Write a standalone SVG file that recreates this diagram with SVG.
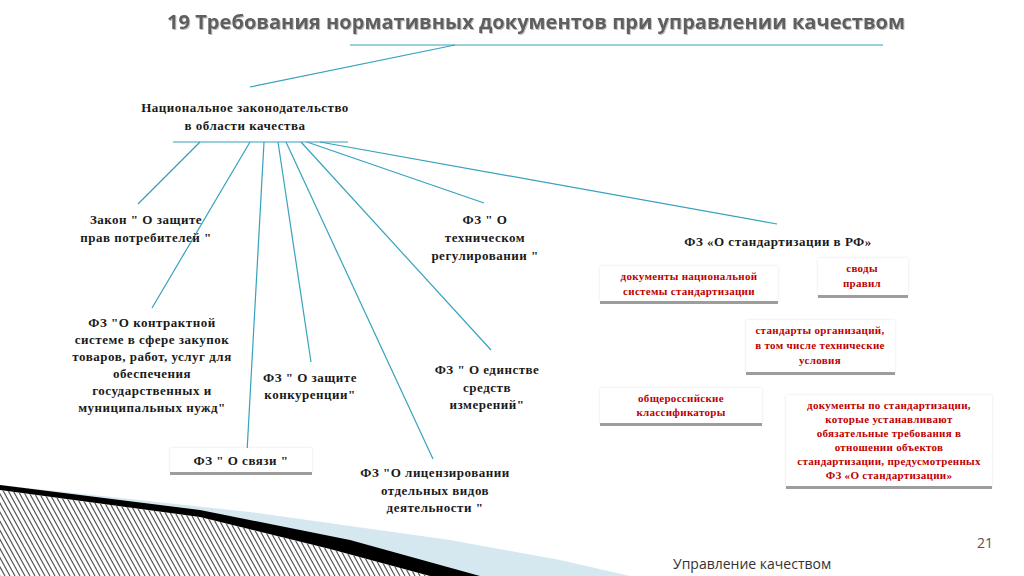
<svg xmlns="http://www.w3.org/2000/svg" width="1024" height="576" viewBox="0 0 1024 576">
<defs>
<clipPath id="hclip"><polygon points="0,490 200,517 330,549 430,576 0,576"/></clipPath>
<filter id="sh" x="-5%" y="-10%" width="110%" height="130%">
<feDropShadow dx="0" dy="0" stdDeviation="1.2" flood-color="#000" flood-opacity="0.12"/>
</filter>
<filter id="tsh" x="-2%" y="-20%" width="104%" height="150%">
<feDropShadow dx="1" dy="1" stdDeviation="0.6" flood-color="#000" flood-opacity="0.25"/>
</filter>
</defs>
<style>
.t{font-family:"Liberation Serif","Times New Roman",serif;font-weight:bold;font-size:13px;letter-spacing:0.5px;fill:#1a1a1a;text-anchor:middle}
.r{font-family:"Liberation Serif","Times New Roman",serif;font-weight:bold;font-size:11px;letter-spacing:0.3px;fill:#c00000;text-anchor:middle}
.c{stroke:#35a2bd;stroke-width:1.2;fill:none}
.box{fill:#ffffff;filter:url(#sh)}
.bar{fill:#9d9d9d}
.h{stroke:#555555;stroke-width:1.2;fill:none}
</style>
<rect width="1024" height="576" fill="#ffffff"/>

<!-- bottom decoration -->
<polygon points="0,485 250,512 450,540 560,560 630,576 0,576" fill="#d6e8ef"/>
<polygon points="0,485 200,510 350,540 480,576 0,576" fill="#000000"/>
<g clip-path="url(#hclip)">
<rect x="0" y="480" width="440" height="96" fill="#ffffff"/>
<path class="h" d="M-55,485l50,91M-50,485l50,91M-45,485l50,91M-40,485l50,91M-35,485l50,91M-30,485l50,91M-25,485l50,91M-20,485l50,91M-15,485l50,91M-10,485l50,91M-5,485l50,91M0,485l50,91M5,485l50,91M10,485l50,91M15,485l50,91M20,485l50,91M25,485l50,91M30,485l50,91M35,485l50,91M40,485l50,91M45,485l50,91M50,485l50,91M55,485l50,91M60,485l50,91M65,485l50,91M70,485l50,91M75,485l50,91M80,485l50,91M85,485l50,91M90,485l50,91M95,485l50,91M100,485l50,91M105,485l50,91M110,485l50,91M115,485l50,91M120,485l50,91M125,485l50,91M130,485l50,91M135,485l50,91M140,485l50,91M145,485l50,91M150,485l50,91M155,485l50,91M160,485l50,91M165,485l50,91M170,485l50,91M175,485l50,91M180,485l50,91M185,485l50,91M190,485l50,91M195,485l50,91M200,485l50,91M205,485l50,91M210,485l50,91M215,485l50,91M220,485l50,91M225,485l50,91M230,485l50,91M235,485l50,91M240,485l50,91M245,485l50,91M250,485l50,91M255,485l50,91M260,485l50,91M265,485l50,91M270,485l50,91M275,485l50,91M280,485l50,91M285,485l50,91M290,485l50,91M295,485l50,91M300,485l50,91M305,485l50,91M310,485l50,91M315,485l50,91M320,485l50,91M325,485l50,91M330,485l50,91M335,485l50,91M340,485l50,91M345,485l50,91M350,485l50,91M355,485l50,91M360,485l50,91M365,485l50,91M370,485l50,91M375,485l50,91M380,485l50,91M385,485l50,91M390,485l50,91M395,485l50,91M400,485l50,91"/>
</g>

<!-- title -->
<text x="536" y="29" font-family="Open Sans,DejaVu Sans,sans-serif" font-weight="bold" font-size="19" fill="#5e5e5e" text-anchor="middle" textLength="738" lengthAdjust="spacingAndGlyphs" filter="url(#tsh)">19 Требования нормативных документов при управлении качеством</text>

<g id="connectors">
<line class="c" x1="350" y1="45" x2="883" y2="45"/>
<line class="c" x1="455" y1="45" x2="250" y2="87"/>
<line class="c" x1="173" y1="142" x2="348" y2="142"/>
<line class="c" x1="200" y1="142" x2="138" y2="204"/>
<line class="c" x1="250" y1="142" x2="152" y2="308"/>
<line class="c" x1="264" y1="142" x2="247" y2="452"/>
<line class="c" x1="278" y1="142" x2="311" y2="362"/>
<line class="c" x1="286" y1="142" x2="433" y2="459"/>
<line class="c" x1="301" y1="142" x2="491" y2="350"/>
<line class="c" x1="307" y1="142" x2="484" y2="203"/>
<line class="c" x1="320" y1="142" x2="777" y2="224"/>
</g>

<g id="n-root">
<text class="t" x="245" y="112">Национальное законодательство</text>
<text class="t" x="245" y="130">в области качества</text>
</g>

<g id="n-zakon">
<text class="t" x="146" y="224">Закон " О защите</text>
<text class="t" x="146" y="242">прав потребителей "</text>
</g>

<g id="n-tech">
<text class="t" x="485" y="224">ФЗ " О</text>
<text class="t" x="485" y="242">техническом</text>
<text class="t" x="485" y="260">регулировании "</text>
</g>

<g id="n-std">
<text class="t" x="778" y="246">ФЗ «О стандартизации в РФ»</text>
</g>

<g id="n-contract">
<text class="t" x="152" y="327">ФЗ "О контрактной</text>
<text class="t" x="152" y="344">системе в сфере закупок</text>
<text class="t" x="152" y="361">товаров, работ, услуг для</text>
<text class="t" x="152" y="378">обеспечения</text>
<text class="t" x="152" y="395">государственных и</text>
<text class="t" x="152" y="412">муниципальных нужд"</text>
</g>

<g id="n-konk">
<text class="t" x="310" y="382">ФЗ " О защите</text>
<text class="t" x="310" y="399">конкуренции"</text>
</g>

<g id="n-edin">
<text class="t" x="487" y="374">ФЗ " О единстве</text>
<text class="t" x="487" y="392">средств</text>
<text class="t" x="487" y="409">измерений"</text>
</g>

<g id="n-svyaz">
<rect class="box" x="170" y="448" width="142" height="25"/>
<rect class="bar" x="170" y="472" width="142" height="3"/>
<text class="t" x="241" y="465">ФЗ " О связи "</text>
</g>

<g id="n-lic">
<text class="t" x="435" y="477">ФЗ "О лицензировании</text>
<text class="t" x="435" y="495">отдельных видов</text>
<text class="t" x="435" y="512">деятельности "</text>
</g>

<g id="r-nac">
<rect class="box" x="600" y="266" width="178" height="36"/>
<rect class="bar" x="600" y="301" width="178" height="3"/>
<text class="r" x="689" y="280">документы национальной</text>
<text class="r" x="689" y="295">системы стандартизации</text>
</g>

<g id="r-svody">
<rect class="box" x="818" y="258" width="90" height="38"/>
<rect class="bar" x="818" y="295" width="90" height="3"/>
<text class="r" x="862" y="272">своды</text>
<text class="r" x="862" y="287">правил</text>
</g>

<g id="r-org">
<rect class="box" x="746" y="320" width="149" height="53"/>
<rect class="bar" x="746" y="372" width="149" height="3"/>
<text class="r" x="820" y="334">стандарты организаций,</text>
<text class="r" x="820" y="349">в том числе технические</text>
<text class="r" x="820" y="364">условия</text>
</g>

<g id="r-klass">
<rect class="box" x="600" y="388" width="162" height="36"/>
<rect class="bar" x="600" y="423" width="162" height="3"/>
<text class="r" x="681" y="402">общероссийские</text>
<text class="r" x="681" y="416">классификаторы</text>
</g>

<g id="r-doc">
<rect class="box" x="786" y="395" width="206" height="92"/>
<rect class="bar" x="786" y="486" width="206" height="3"/>
<text class="r" x="889" y="409">документы по стандартизации,</text>
<text class="r" x="889" y="423">которые устанавливают</text>
<text class="r" x="889" y="437">обязательные требования в</text>
<text class="r" x="889" y="451">отношении объектов</text>
<text class="r" x="889" y="465">стандартизации, предусмотренных</text>
<text class="r" x="889" y="479">ФЗ «О стандартизации»</text>
</g>

<text x="993" y="548" font-family="Open Sans,DejaVu Sans,sans-serif" font-size="14" fill="#555555" text-anchor="end">21</text>
<text x="673" y="569" font-family="Open Sans,DejaVu Sans,sans-serif" font-size="14" fill="#333333">Управление качеством</text>
</svg>
